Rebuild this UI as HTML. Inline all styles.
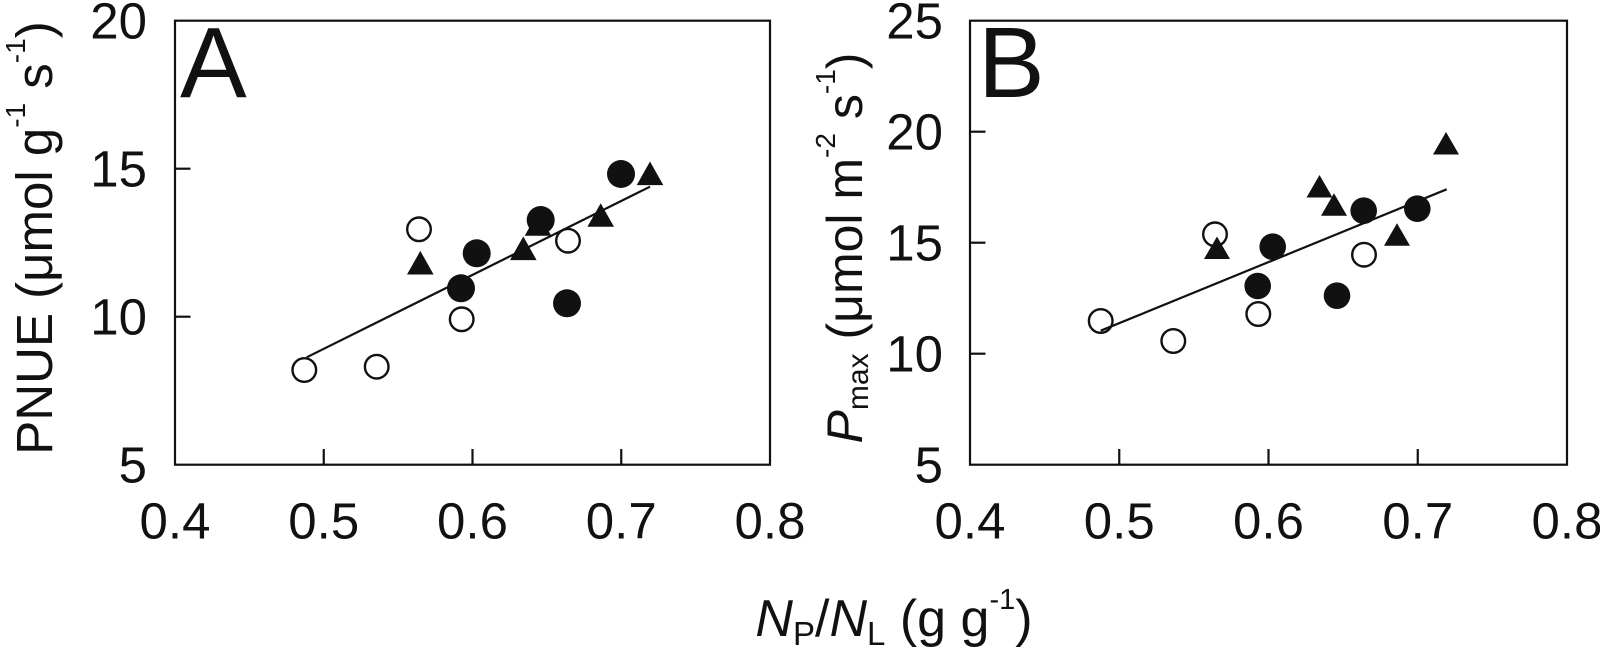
<!DOCTYPE html>
<html>
<head>
<meta charset="utf-8">
<style>
  html,body{margin:0;padding:0;background:#fff;}
  svg{display:block;}
  text{font-family:"Liberation Sans", Arial, sans-serif; fill:#111;}
</style>
</head>
<body>
<svg width="1600" height="649" viewBox="0 0 1600 649" xmlns="http://www.w3.org/2000/svg">
  <!-- ===== Panel A ===== -->
  <g stroke="#111" stroke-width="2.2" fill="none">
    <rect x="175" y="20.7" width="595" height="444"/>
    <line x1="323.75" y1="464.7" x2="323.75" y2="449"/>
    <line x1="472.5" y1="464.7" x2="472.5" y2="449"/>
    <line x1="621.25" y1="464.7" x2="621.25" y2="449"/>
    <line x1="175" y1="168.7" x2="190.5" y2="168.7"/>
    <line x1="175" y1="316.7" x2="190.5" y2="316.7"/>
  </g>
  <g font-size="51" text-anchor="end">
    <text x="147" y="38.7">20</text>
    <text x="147" y="186.7">15</text>
    <text x="147" y="334.7">10</text>
    <text x="147" y="482.7">5</text>
  </g>
  <g font-size="51" text-anchor="middle">
    <text x="175" y="538.3">0.4</text>
    <text x="323.75" y="538.3">0.5</text>
    <text x="472.5" y="538.3">0.6</text>
    <text x="621.25" y="538.3">0.7</text>
    <text x="770" y="538.3">0.8</text>
  </g>
  <text x="180" y="97" font-size="100">A</text>
  <text transform="translate(52,238) rotate(-90)" text-anchor="middle" font-size="51">PNUE (μmol g<tspan font-size="28" dy="-27">-1</tspan><tspan dy="27"> s</tspan><tspan font-size="28" dy="-27">-1</tspan><tspan dy="27">)</tspan></text>

  <g fill="#fff" stroke="#111" stroke-width="2.4">
    <circle cx="304.3" cy="370" r="11.8"/>
    <circle cx="376.7" cy="366.7" r="11.8"/>
    <circle cx="419" cy="229.3" r="11.8"/>
    <circle cx="461.7" cy="319.3" r="11.8"/>
    <circle cx="568" cy="240.7" r="11.8"/>
  </g>
  <line x1="306.7" y1="357.3" x2="650" y2="186.7" stroke="#111" stroke-width="2.2"/>
  <g fill="#111">
    <polygon points="420.3,250.9 407,274.5 433.6,274.5"/>
    <polygon points="523.3,236.5 510,260.1 536.6,260.1"/>
    <polygon points="538,212.2 524.7,235.8 551.3,235.8"/>
    <polygon points="600.7,203.2 587.4,226.8 614,226.8"/>
    <polygon points="650,161.5 636.7,185.1 663.3,185.1"/>
  </g>
  <g fill="#111">
    <circle cx="461" cy="288.3" r="14"/>
    <circle cx="476.7" cy="253.3" r="14"/>
    <circle cx="540.7" cy="220" r="14"/>
    <circle cx="567" cy="303.3" r="14"/>
    <circle cx="621" cy="174" r="14"/>
  </g>

  <!-- ===== Panel B ===== -->
  <g stroke="#111" stroke-width="2.2" fill="none">
    <rect x="970" y="20.7" width="597" height="444"/>
    <line x1="1119.25" y1="464.7" x2="1119.25" y2="449"/>
    <line x1="1268.5" y1="464.7" x2="1268.5" y2="449"/>
    <line x1="1417.75" y1="464.7" x2="1417.75" y2="449"/>
    <line x1="970" y1="131.7" x2="985.5" y2="131.7"/>
    <line x1="970" y1="242.7" x2="985.5" y2="242.7"/>
    <line x1="970" y1="353.7" x2="985.5" y2="353.7"/>
  </g>
  <g font-size="51" text-anchor="end">
    <text x="943" y="38.7">25</text>
    <text x="943" y="149.7">20</text>
    <text x="943" y="260.7">15</text>
    <text x="943" y="371.7">10</text>
    <text x="943" y="482.7">5</text>
  </g>
  <g font-size="51" text-anchor="middle">
    <text x="970" y="538.3">0.4</text>
    <text x="1119.25" y="538.3">0.5</text>
    <text x="1268.5" y="538.3">0.6</text>
    <text x="1417.75" y="538.3">0.7</text>
    <text x="1567" y="538.3">0.8</text>
  </g>
  <text x="978" y="97" font-size="100">B</text>
  <text transform="translate(862,248) rotate(-90)" text-anchor="middle" font-size="50"><tspan font-style="italic">P</tspan><tspan font-size="30" dy="6">max</tspan><tspan dy="-6"> (μmol m</tspan><tspan font-size="28" dy="-27">-2</tspan><tspan dy="27"> s</tspan><tspan font-size="28" dy="-27">-1</tspan><tspan dy="27">)</tspan></text>

  <g fill="#fff" stroke="#111" stroke-width="2.4">
    <circle cx="1100.7" cy="321" r="11.8"/>
    <circle cx="1173.3" cy="341" r="11.8"/>
    <circle cx="1215" cy="234.3" r="11.8"/>
    <circle cx="1258.3" cy="314" r="11.8"/>
    <circle cx="1364" cy="254.7" r="11.8"/>
  </g>
  <line x1="1100.7" y1="330.7" x2="1446.7" y2="189.3" stroke="#111" stroke-width="2.2"/>
  <g fill="#111">
    <polygon points="1217,236.5 1204,259 1230,259"/>
    <polygon points="1319.5,175 1306.5,197.5 1332.5,197.5"/>
    <polygon points="1334,193.3 1321,215.8 1347,215.8"/>
    <polygon points="1397,223.3 1384,245.8 1410,245.8"/>
    <polygon points="1446,132 1433,154.5 1459,154.5"/>
  </g>
  <g fill="#111">
    <circle cx="1272.7" cy="246.7" r="13.3"/>
    <circle cx="1257.7" cy="286" r="13.3"/>
    <circle cx="1337" cy="295.7" r="13.3"/>
    <circle cx="1363.7" cy="210.7" r="13.3"/>
    <circle cx="1417.3" cy="208.7" r="13.3"/>
  </g>

  <!-- x-axis label -->
  <text x="894" y="636" text-anchor="middle" font-size="52"><tspan font-style="italic">N</tspan><tspan font-size="33" dy="9">P</tspan><tspan dy="-9">/</tspan><tspan font-style="italic">N</tspan><tspan font-size="33" dy="9">L</tspan><tspan dy="-9"> (g g</tspan><tspan font-size="29" dy="-27">-1</tspan><tspan dy="27">)</tspan></text>
</svg>
</body>
</html>
